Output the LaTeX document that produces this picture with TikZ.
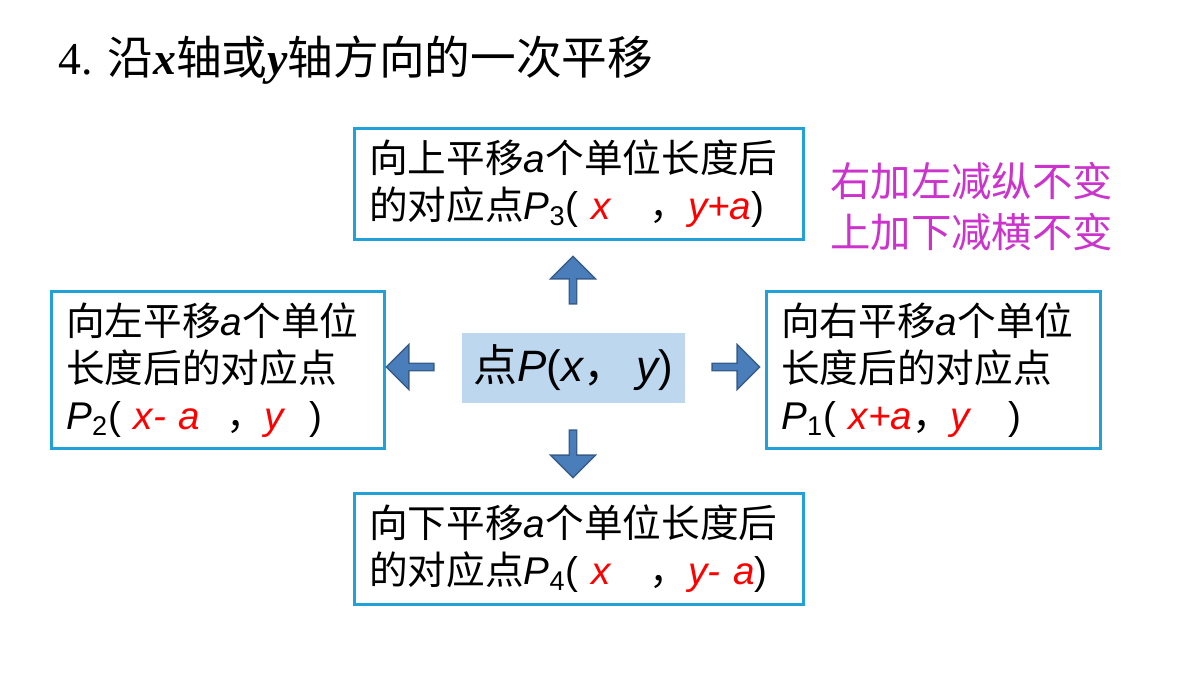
\documentclass[tikz,border=0pt]{standalone}
\usepackage{fontspec}
\setmainfont{Noto Sans CJK SC}
\newfontfamily\lat{Liberation Sans}
\newfontfamily\serif{Liberation Serif}
\usetikzlibrary{shapes.arrows}
\definecolor{boxline}{HTML}{22A0D8}
\definecolor{ptfill}{HTML}{BDD7EE}
\definecolor{arrowfill}{HTML}{4A7EBB}
\definecolor{arrowline}{HTML}{385D8A}
\definecolor{ruletext}{HTML}{CC33CC}
\newcommand{\vr}[1]{{\lat\itshape #1}}
\newcommand{\rd}[1]{\textcolor{red}{\lat\itshape #1}}
\begin{document}
\begin{tikzpicture}[x=0.02cm,y=-0.02cm,
    rule box/.style={draw=boxline,line width=1.5pt,align=left,anchor=north west,
      inner xsep=0.3cm,inner ysep=0pt,
      font=\fontsize{22}{26.7}\selectfont},
    move arrow/.style={single arrow,draw=arrowline,fill=arrowfill,line width=0.8pt,
      minimum height=0.95cm,minimum width=0.9cm,single arrow head extend=0.07cm,inner sep=0pt}]

    \useasboundingbox (0,0) rectangle (1200,675);

    \node[anchor=west,font=\fontsize{26}{30}\selectfont] (title) at (52,60)
        {{\serif 4. }沿{\serif\bfseries\itshape x}轴或{\serif\bfseries\itshape y}轴方向的一次平移};

    \node[rule box,text width=8.38cm,minimum height=2.22cm] (up) at (353,127)
        {向上平移\vr{a}个单位长度后\\的对应点\vr{P}\textsubscript{\lat 3}{\lat(} \rd{x} \ \ ，\rd{y+a}{\lat )}};
    \node[rule box,text width=6.06cm,minimum height=3.14cm] (left) at (50,290)
        {向左平移\vr{a}个单位\\长度后的对应点\\\vr{P}\textsubscript{\lat 2}{\lat(} \rd{x- a} \ ，\rd{y} \ {\lat )}};
    \node[rule box,text width=6.08cm,minimum height=3.14cm] (right) at (765,290)
        {向右平移\vr{a}个单位\\长度后的对应点\\\vr{P}\textsubscript{\lat 1}{\lat(} \rd{x+a}，\rd{y} \ \ {\lat )}};
    \node[rule box,text width=8.38cm,minimum height=2.22cm] (down) at (353,492)
        {向下平移\vr{a}个单位长度后\\的对应点\vr{P}\textsubscript{\lat 4}{\lat(} \rd{x} \ \ ，\rd{y- a}{\lat )}};

    \node[fill=ptfill,minimum width=4.46cm,minimum height=1.4cm,
          font=\fontsize{25}{28}\selectfont] (pt) at (573.5,368)
        {点\vr{P}{\lat(}\vr{x}，\ \vr{y}{\lat )}};

    \node[move arrow,rotate=90] (au) at (573,282) {};
    \node[move arrow,rotate=-90] (ad) at (573,452) {};
    \node[move arrow,rotate=180] (al) at (412,367) {};
    \node[move arrow] (ar) at (734,367) {};

    \node[anchor=west,text=ruletext,align=left,font=\fontsize{23}{29}\selectfont] (rule) at (824,207)
        {右加左减纵不变\\上加下减横不变};
\end{tikzpicture}
\end{document}
